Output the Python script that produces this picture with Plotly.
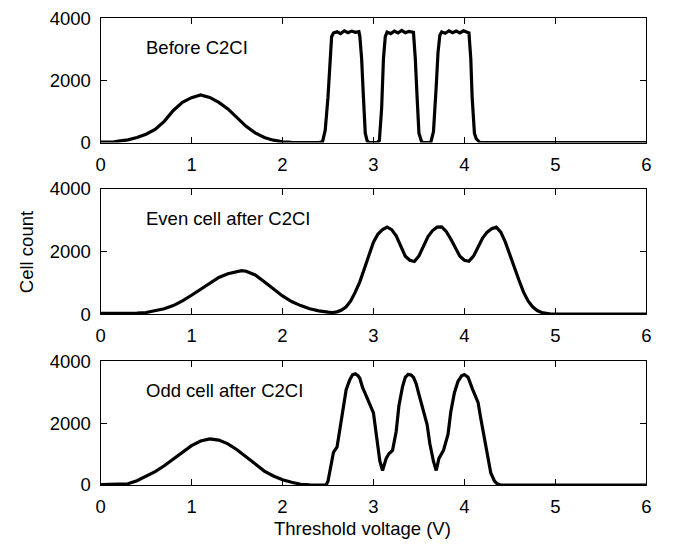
import plotly.graph_objects as go

# ---- data ----
before_v = [0.0, 0.1, 0.15, 0.2, 0.3, 0.4, 0.5, 0.6, 0.7, 0.8, 0.9, 1.0, 1.1, 1.2, 1.3, 1.4,
            1.5, 1.6, 1.7, 1.8, 1.9, 2.0, 2.1, 2.2, 2.40, 2.44, 2.47, 2.50, 2.52, 2.54, 2.56,
            2.60, 2.64, 2.68, 2.72, 2.76, 2.80, 2.84, 2.85, 2.87, 2.89, 2.91, 2.93, 2.95,
            3.04, 3.065, 3.09, 3.11, 3.13, 3.15, 3.19, 3.23, 3.27, 3.31, 3.35, 3.39, 3.44,
            3.46, 3.48, 3.50, 3.53, 3.55, 3.63, 3.66, 3.69, 3.71, 3.73, 3.75, 3.79, 3.83,
            3.87, 3.91, 3.95, 3.99, 4.03, 4.05, 4.07, 4.085, 4.11, 4.13, 4.17, 6.0]
before_count = [15, 15, 20, 45, 85, 160, 265, 420, 680, 1030, 1290, 1440, 1530, 1450, 1290, 1080,
                790, 520, 310, 160, 75, 20, 5, 0, 0, 20, 400, 1450, 2700, 3400, 3520,
                3560, 3500, 3590, 3530, 3580, 3540, 3560, 3420, 2700, 1450, 300, 60, 0,
                0, 60, 1100, 2700, 3400, 3550, 3500, 3580, 3520, 3600, 3530, 3570, 3540,
                2700, 1450, 300, 20, 0, 0, 350, 1800, 2900, 3450, 3550, 3510, 3590,
                3530, 3580, 3520, 3590, 3540, 3520, 2700, 1450, 300, 120, 0, 0]

even_v = [0.0, 0.1, 0.2, 0.3, 0.4, 0.5, 0.6, 0.7, 0.8, 0.9, 1.0, 1.1, 1.2, 1.3, 1.4, 1.5,
          1.55, 1.6, 1.7, 1.8, 1.9, 2.0, 2.1, 2.2, 2.3, 2.4, 2.5, 2.55, 2.6, 2.65, 2.7, 2.75,
          2.8, 2.85, 2.9, 2.95, 3.0, 3.05, 3.1, 3.15, 3.2, 3.25, 3.3, 3.35, 3.4, 3.45, 3.5,
          3.55, 3.6, 3.65, 3.7, 3.75, 3.8, 3.85, 3.9, 3.95, 4.0, 4.05, 4.1, 4.15, 4.2, 4.25,
          4.3, 4.35, 4.4, 4.45, 4.5, 4.55, 4.6, 4.65, 4.7, 4.75, 4.8, 4.85, 4.9, 4.95, 6.0]
even_count = [20, 20, 15, 20, 30, 50, 100, 170, 270, 420, 600, 800, 1000, 1170, 1290, 1370,
              1390, 1370, 1250, 1030, 800, 580, 400, 270, 170, 100, 60, 50, 70, 130, 230, 420,
              700, 1030, 1450, 1900, 2300, 2560, 2700, 2780, 2700, 2500, 2150, 1850, 1720, 1680, 1860,
              2200, 2480, 2670, 2780, 2790, 2640, 2400, 2120, 1850, 1720, 1690, 1850, 2150, 2430, 2620,
              2730, 2780, 2620, 2300, 1880, 1500, 1080, 700, 420, 230, 110, 50, 15, 0, 0]

odd_v = [0.0, 0.1, 0.2, 0.25, 0.3, 0.4, 0.5, 0.6, 0.7, 0.8, 0.9, 1.0, 1.1, 1.2, 1.3, 1.4,
         1.5, 1.6, 1.7, 1.8, 1.9, 2.0, 2.1, 2.2, 2.3, 2.48, 2.50, 2.52, 2.56, 2.60, 2.63,
         2.67, 2.70, 2.74, 2.77, 2.80, 2.83, 2.85, 2.88, 2.91, 2.94, 2.97, 3.00, 3.035,
         3.07, 3.10, 3.14, 3.17, 3.21, 3.25, 3.28, 3.32, 3.35, 3.38, 3.41, 3.44, 3.47,
         3.50, 3.54, 3.59, 3.62, 3.66, 3.69, 3.72, 3.77, 3.82, 3.85, 3.89, 3.93, 3.97,
         4.00, 4.04, 4.09, 4.15, 4.18, 4.22, 4.26, 4.29, 4.33, 4.36, 4.40, 6.0]
odd_count = [15, 15, 15, 20, 40, 140, 290, 430, 620, 830, 1050, 1270, 1420, 1490, 1450, 1330,
             1140, 910, 660, 450, 290, 170, 90, 20, 5, 0, 120, 480, 1050, 1230, 1750,
             2470, 3080, 3400, 3560, 3590, 3530, 3450, 3150, 2950, 2750, 2550, 2330, 1550,
             780, 470, 860, 1010, 1120, 1730, 2560, 3180, 3480, 3570, 3560, 3480, 3270,
             2930, 2520, 1950, 1330, 760, 470, 860, 1120, 1640, 2360, 2980, 3350, 3530,
             3570, 3480, 3090, 2670, 2150, 1530, 910, 390, 130, 40, 0, 0]

panel_labels = ["Before C2CI", "Even cell after C2CI", "Odd cell after C2CI"]
x_ticks = [0, 1, 2, 3, 4, 5, 6]
y_ticks = [0, 2000, 4000]
x_title = "Threshold voltage (V)"
y_title = "Cell count"

# ---- figure ----
W, H = 674, 553
FONT = "Liberation Sans, Arial, sans-serif"
FS = 18.5

series = [(before_v, before_count), (even_v, even_count), (odd_v, odd_count)]
# (top px, bottom px) of each panel
panel_px = [(7.3, 136.7), (185.0, 315.0), (364.0, 492.7)]
x_dom = [97 / W, 651 / W]

fig = go.Figure()
for i, (xv, yv) in enumerate(series):
    n = "" if i == 0 else str(i + 1)
    fig.add_trace(go.Scatter(x=xv, y=yv, mode="lines",
                             line=dict(color="black", width=3.2),
                             xaxis="x" + n, yaxis="y" + n, showlegend=False,
                             hoverinfo="skip"))
    top, bot = panel_px[i]
    ax = dict(domain=x_dom, range=[0, 6], tickvals=x_ticks, ticks="inside", ticklen=6,
              tickcolor="black", showline=True, linecolor="black", linewidth=1,
              mirror="allticks", showgrid=False, zeroline=False,
              tickfont=dict(family=FONT, size=FS, color="black"),
              anchor="y" + n, ticklabelstandoff=5)
    ay = dict(domain=[(H - bot) / H, (H - top) / H], range=[0, 4000], tickvals=y_ticks,
              ticks="inside", ticklen=6, tickcolor="black", showline=True,
              linecolor="black", linewidth=1, mirror="allticks", showgrid=False,
              zeroline=False, tickfont=dict(family=FONT, size=FS, color="black"),
              anchor="x" + n, ticklabelstandoff=5)
    fig.update_layout(**{"xaxis" + n: ax, "yaxis" + n: ay})
    fig.add_annotation(text=panel_labels[i], x=141 / W, y=(H - (top + 30.5)) / H,
                       xref="paper", yref="paper", xanchor="left", yanchor="middle",
                       showarrow=False, font=dict(family=FONT, size=FS, color="black"))

fig.add_annotation(text=x_title, x=362.5 / W, y=(H - 538) / H, xref="paper", yref="paper",
                   xanchor="center", yanchor="middle", showarrow=False,
                   font=dict(family=FONT, size=FS, color="black"))
fig.add_annotation(text=y_title, x=22 / W, y=(H - 251) / H, xref="paper", yref="paper",
                   xanchor="center", yanchor="middle", textangle=-90, showarrow=False,
                   font=dict(family=FONT, size=FS, color="black"))

fig.update_layout(width=W, height=H, margin=dict(l=0, r=0, t=0, b=0),
                  paper_bgcolor="white", plot_bgcolor="white")
fig.write_html("out.html")
